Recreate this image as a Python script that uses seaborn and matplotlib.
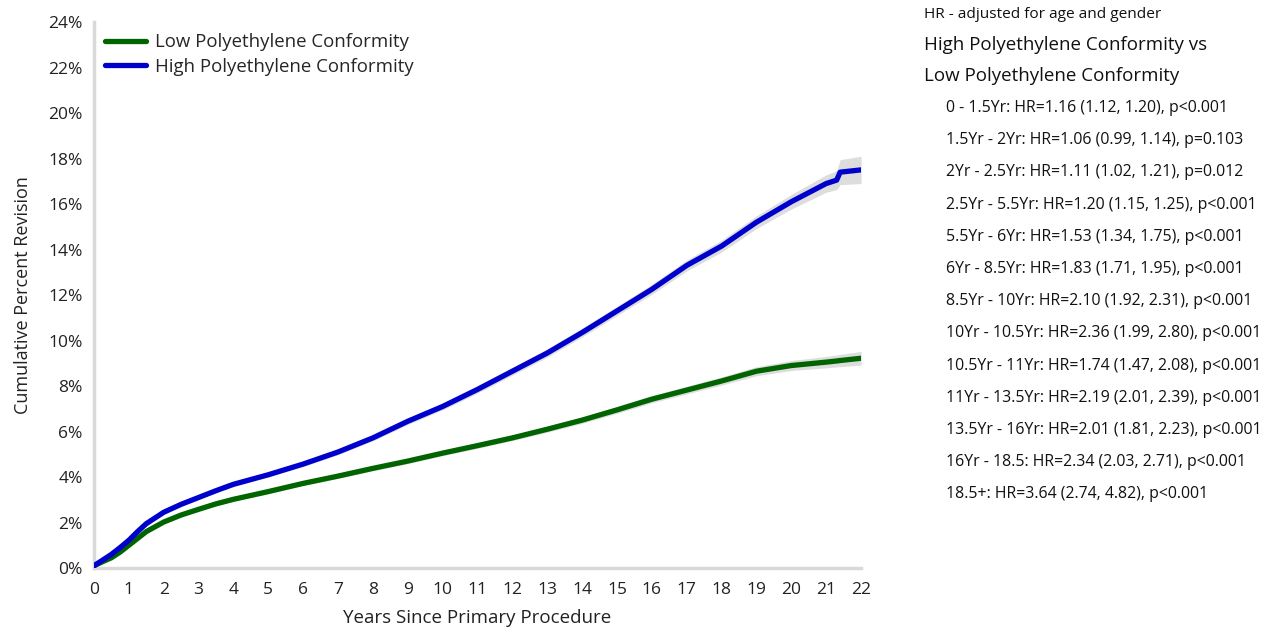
import numpy as np
import pandas as pd
import matplotlib
matplotlib.use("Agg")
import matplotlib.pyplot as plt
import seaborn as sns

# Values (cumulative percent revision)
years = [0, 0.25, 0.5, 0.75, 1, 1.25, 1.5, 2, 2.5, 3, 3.5, 4, 5, 6, 7, 8, 9,
         10, 11, 12, 13, 14, 15, 16, 17, 18, 19, 20, 21, 21.3, 21.4, 22]
low_pc = [0.1, 0.28, 0.45, 0.7, 1.0, 1.3, 1.6, 2.02, 2.33, 2.58, 2.82, 3.02,
          3.36, 3.72, 4.04, 4.38, 4.7, 5.05, 5.38, 5.72, 6.1, 6.5, 6.95, 7.42,
          7.82, 8.22, 8.65, 8.9, 9.05, 9.1, 9.12, 9.22]
high_pc = [0.1, 0.35, 0.6, 0.9, 1.22, 1.6, 1.95, 2.45, 2.8, 3.1, 3.4, 3.68,
           4.1, 4.57, 5.1, 5.72, 6.45, 7.1, 7.85, 8.65, 9.45, 10.35, 11.3,
           12.25, 13.3, 14.15, 15.2, 16.1, 16.9, 17.05, 17.4, 17.5]
low_ci = [0.02, 0.03, 0.04, 0.05, 0.05, 0.06, 0.06, 0.07, 0.07, 0.08, 0.08,
          0.08, 0.09, 0.09, 0.1, 0.1, 0.11, 0.11, 0.12, 0.12, 0.13, 0.14,
          0.15, 0.16, 0.17, 0.18, 0.2, 0.22, 0.25, 0.26, 0.27, 0.3]
high_ci = [0.02, 0.04, 0.05, 0.06, 0.06, 0.07, 0.07, 0.08, 0.08, 0.09, 0.09,
           0.1, 0.1, 0.11, 0.12, 0.13, 0.14, 0.15, 0.16, 0.17, 0.18, 0.19,
           0.2, 0.22, 0.24, 0.26, 0.28, 0.32, 0.38, 0.42, 0.55, 0.6]
groups = ["Low Polyethylene Conformity", "High Polyethylene Conformity"]
colors = ["#006400", "#0000cd"]

hr_rows = [
    "0 - 1.5Yr: HR=1.16 (1.12, 1.20), p<0.001",
    "1.5Yr - 2Yr: HR=1.06 (0.99, 1.14), p=0.103",
    "2Yr - 2.5Yr: HR=1.11 (1.02, 1.21), p=0.012",
    "2.5Yr - 5.5Yr: HR=1.20 (1.15, 1.25), p<0.001",
    "5.5Yr - 6Yr: HR=1.53 (1.34, 1.75), p<0.001",
    "6Yr - 8.5Yr: HR=1.83 (1.71, 1.95), p<0.001",
    "8.5Yr - 10Yr: HR=2.10 (1.92, 2.31), p<0.001",
    "10Yr - 10.5Yr: HR=2.36 (1.99, 2.80), p<0.001",
    "10.5Yr - 11Yr: HR=1.74 (1.47, 2.08), p<0.001",
    "11Yr - 13.5Yr: HR=2.19 (2.01, 2.39), p<0.001",
    "13.5Yr - 16Yr: HR=2.01 (1.81, 2.23), p<0.001",
    "16Yr - 18.5: HR=2.34 (2.03, 2.71), p<0.001",
    "18.5+: HR=3.64 (2.74, 4.82), p<0.001",
]

df = pd.concat([
    pd.DataFrame({"years": years, "pct": low_pc, "ci": low_ci, "group": groups[0]}),
    pd.DataFrame({"years": years, "pct": high_pc, "ci": high_ci, "group": groups[1]}),
])

sns.set_style("white")
plt.rcParams["font.family"] = ["Open Sans", "DejaVu Sans"]

fig = plt.figure(figsize=(12.7, 6.38), dpi=100)
ax = fig.add_axes([0.074, 0.1097, 0.604, 0.8558])

for g in groups:
    sub = df[df["group"] == g]
    ax.fill_between(sub["years"], sub["pct"] - sub["ci"], sub["pct"] + sub["ci"],
                    color="#dddddd", lw=0, zorder=1)

sns.lineplot(data=df, x="years", y="pct", hue="group", hue_order=groups,
             palette=colors, linewidth=3.8, ax=ax, zorder=3)

ax.set_xlim(0, 22)
ax.set_ylim(0, 24)
ax.set_xticks(range(0, 23))
ax.set_yticks(range(0, 25, 2))
ax.set_yticklabels([f"{v}%" for v in range(0, 25, 2)])
ax.tick_params(axis="both", labelsize=12.5, colors="#222222")
ax.tick_params(axis="x", length=4, width=1, color="#d9d9d9", pad=6)
ax.tick_params(axis="y", length=0, pad=8)
for s in ["top", "right"]:
    ax.spines[s].set_visible(False)
for s in ["left", "bottom"]:
    ax.spines[s].set_color("#d9d9d9")
    ax.spines[s].set_linewidth(2.5)
ax.set_xlabel("Years Since Primary Procedure", fontsize=13.5, labelpad=8, color="#222222")
ax.set_ylabel("Cumulative Percent Revision", fontsize=13, labelpad=12, color="#222222")

leg = ax.legend(loc="upper left", bbox_to_anchor=(0.0, 1.0), frameon=False,
                fontsize=13.4, handlelength=2.2, handletextpad=0.5,
                labelspacing=0.35, borderaxespad=0.2)
for line in leg.get_lines():
    line.set_linewidth(3.8)

# hazard ratio panel
fig.text(924 / 1270, 1 - 14 / 638, "HR - adjusted for age and gender",
         fontsize=11.1, va="center", color="#111111")
fig.text(924 / 1270, 1 - 45 / 638, "High Polyethylene Conformity vs",
         fontsize=13.5, va="center", color="#111111")
fig.text(924 / 1270, 1 - 76 / 638, "Low Polyethylene Conformity",
         fontsize=13.5, va="center", color="#111111")
for i, row in enumerate(hr_rows):
    fig.text(946 / 1270, 1 - (108 + i * 32.2) / 638, row,
             fontsize=11.4, va="center", color="#111111")

fig.savefig("out.png", dpi=100)
